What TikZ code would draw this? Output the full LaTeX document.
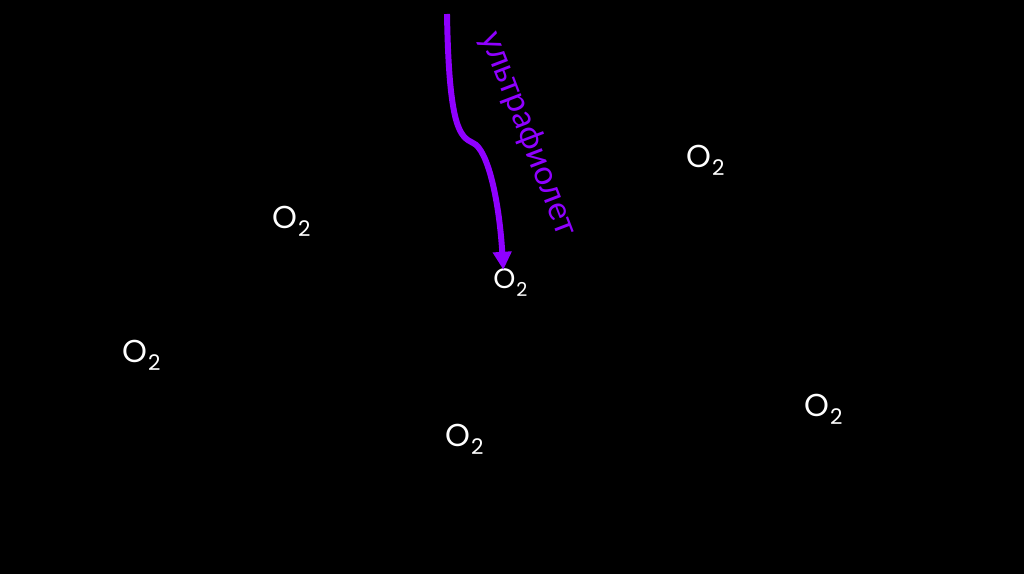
\documentclass[tikz,border=0pt]{standalone}
\usepackage{fontspec}
\setmainfont{Lato}
\newfontfamily\molfont{Poppins}
\usetikzlibrary{arrows.meta}
\definecolor{uvviolet}{HTML}{8F00FF}
\newcommand{\oxygen}{O\kern0.5pt\raisebox{-0.25em}{\fontsize{0.68em}{1em}\selectfont 2}}
\begin{document}
\begin{tikzpicture}[
  molecule/.style={font=\molfont\fontsize{18}{20}\selectfont, text=white, inner sep=0pt, anchor=base west},
  uvlabel/.style={font=\fontsize{19}{22}\selectfont, text=uvviolet, rotate=-69},
  uvray/.style={-{Triangle[length=3.6mm,width=3.6mm]}, line width=3.4pt, uvviolet},
]

% Background
\fill[black] (0,0) rectangle (20.48,11.48);

% Oxygen molecules
\node[molecule] (o1) at (5.44,6.90) {\oxygen};
\node[molecule] (o2) at (13.72,8.12) {\oxygen};
\node[molecule, font=\molfont\fontsize{16}{18}\selectfont] (o3) at (9.86,5.70) {\oxygen};
\node[molecule] (o4) at (2.44,4.22) {\oxygen};
\node[molecule] (o5) at (8.90,2.54) {\oxygen};
\node[molecule] (o6) at (16.08,3.14) {\oxygen};

% Ultraviolet ray
\coordinate (uvtop) at (8.94,11.20);
\coordinate (kink) at (9.46,8.62);
\draw[uvray] (uvtop) .. controls (8.98,8.9) and (9.2,8.75) .. (kink)
  .. controls (9.75,8.5) and (9.98,7.5) .. ([xshift=-0.14cm,yshift=-0.02cm]o3.north);
\node[uvlabel] (uv) at (10.56,8.80) {ультрафиолет};

\end{tikzpicture}
\end{document}
